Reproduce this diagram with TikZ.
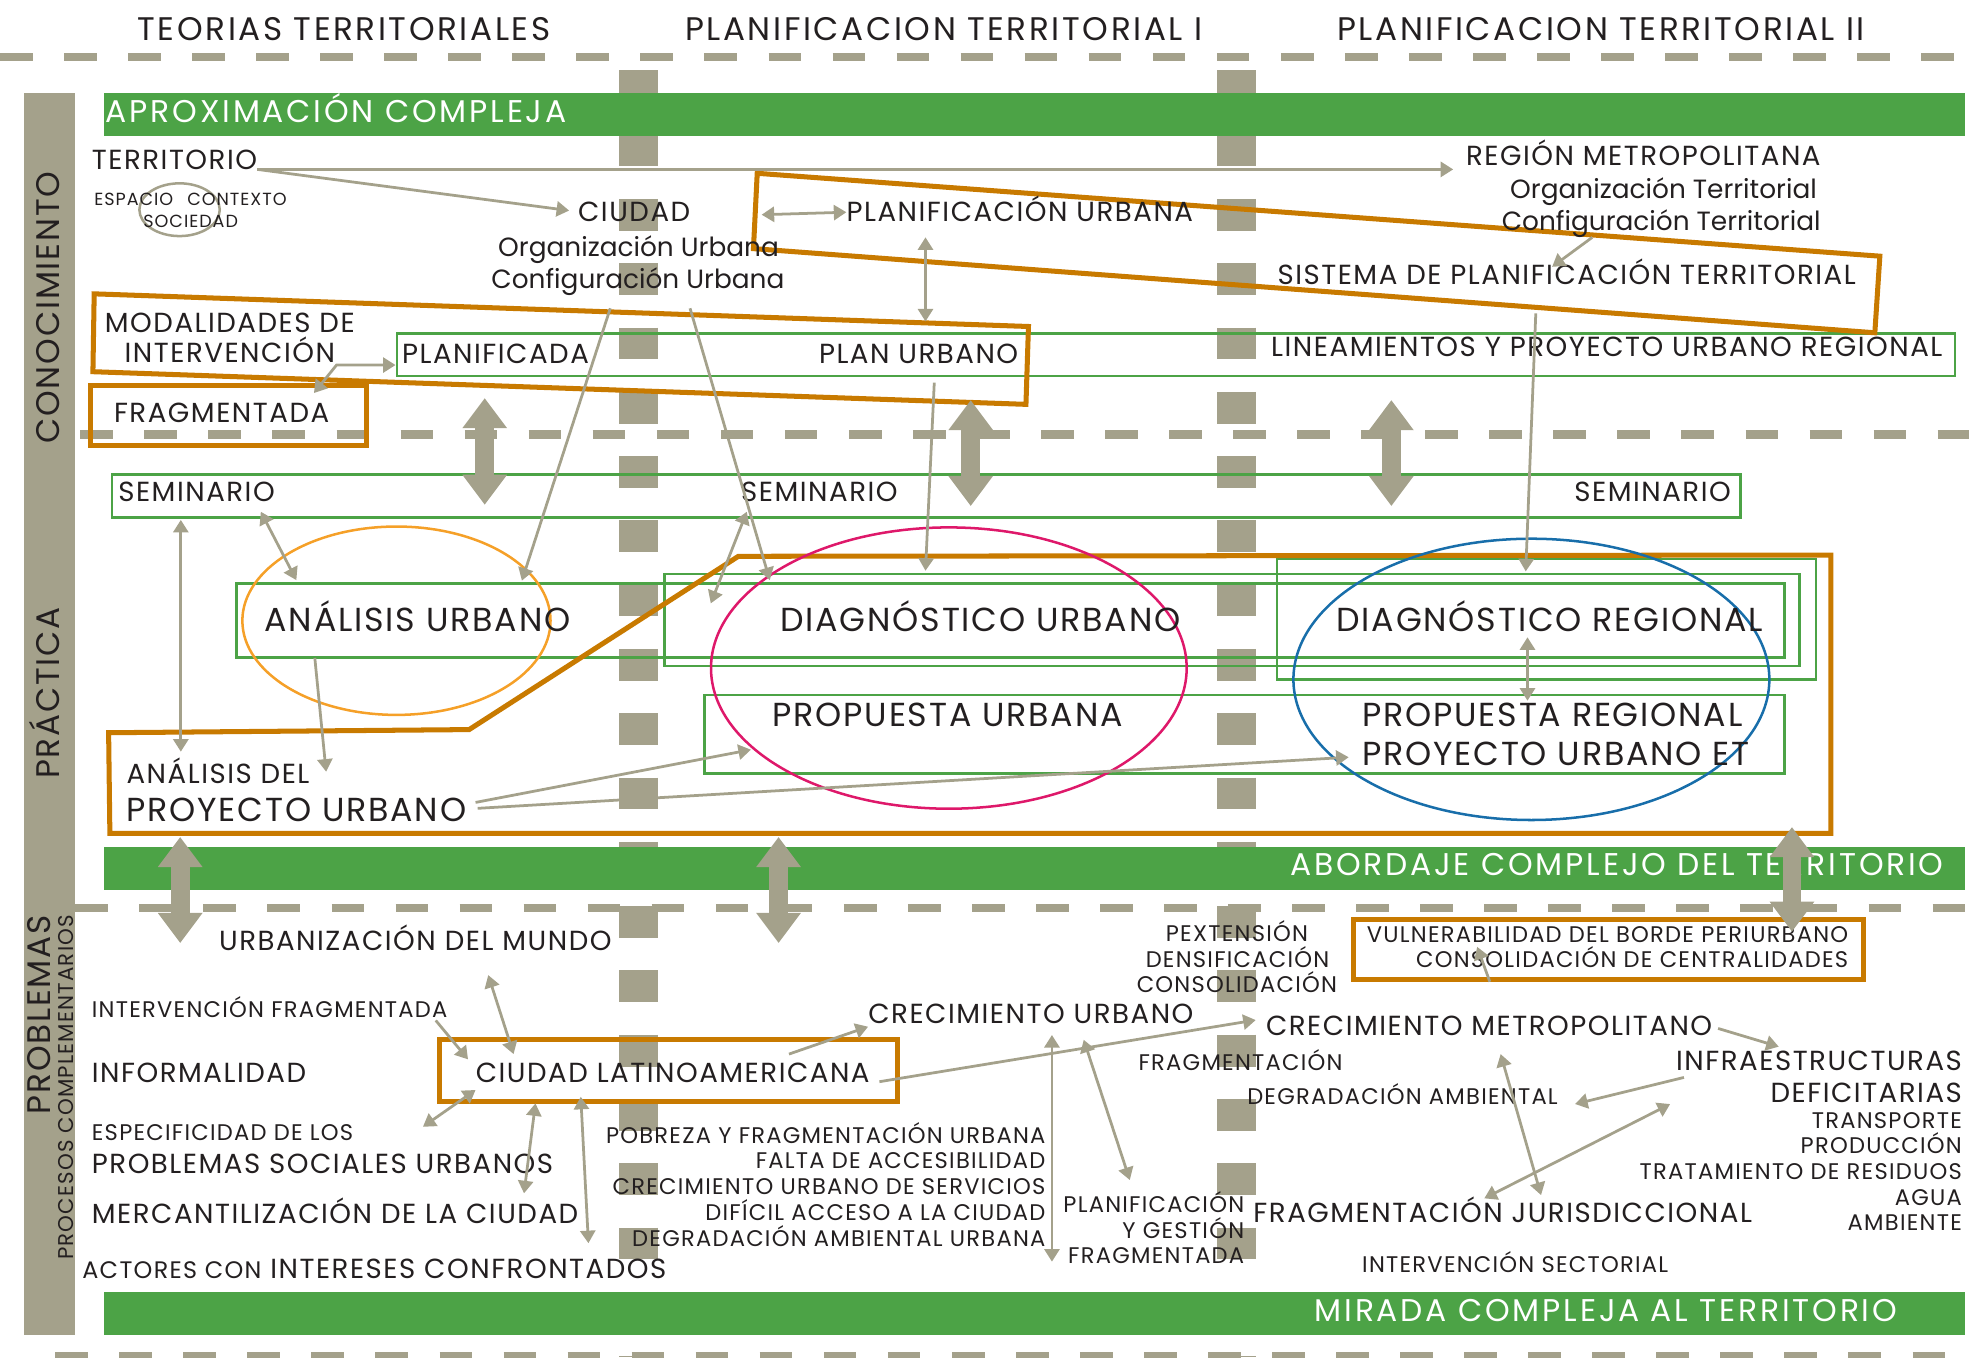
\documentclass[tikz,border=0pt]{standalone}
\usepackage{fontspec}
\setmainfont{Poppins}[LetterSpace=5.5]
\usetikzlibrary{arrows.meta}
\definecolor{bargray}{RGB}{164,161,139}
\definecolor{leaf}{RGB}{76,163,70}
\definecolor{rust}{RGB}{200,122,0}
\definecolor{amber}{RGB}{245,160,40}
\definecolor{rose}{RGB}{222,24,106}
\definecolor{sea}{RGB}{24,110,170}
\definecolor{ink}{RGB}{35,31,32}

\begin{document}
\begin{tikzpicture}[x=1pt, y=-1pt, line join=miter,
    >={Triangle[width=12pt, length=10pt]},
    every node/.style={inner sep=0pt, text=ink, text depth=0pt},
    head/.style={font=\fontsize{26}{26}\selectfont\addfontfeature{LetterSpace=8}, text height=18.2pt},
    side/.style={font=\fontsize{26}{26}\selectfont, text height=18.2pt, rotate=90},
    band/.style={font=\fontsize{25}{25}\selectfont\addfontfeature{LetterSpace=9}, text height=17.5pt, text=white},
    big/.style={font=\fontsize{26.5}{27}\selectfont, text height=18.5pt},
    mid/.style={font=\fontsize{22}{23}\selectfont, text height=15.4pt},
    low/.style={font=\fontsize{21}{22}\selectfont\addfontfeature{LetterSpace=0}, text height=14.7pt},
    sml/.style={font=\fontsize{18}{19}\selectfont, text height=12.6pt},
    tny/.style={font=\fontsize{14}{15}\selectfont, text height=9.8pt},
    link/.style={draw=bargray, line width=2.2pt},
    bigarrow/.style={draw=bargray, line width=15pt, {Triangle[width=34pt,length=24pt]}-{Triangle[width=34pt,length=24pt]}},
    greenbox/.style={draw=leaf, line width=2pt},
    frame/.style={draw=rust, line width=4pt},
    ring/.style={line width=2pt}
  ]
  \useasboundingbox (0,0) rectangle (1568,1081);

  \fill [bargray] (19,74) rectangle (60,1063);
  \foreach \x in {508.5, 985} {
    \draw [bargray, line width=31pt, dash pattern=on 25.3pt off 25.9pt] (\x,56) -- (\x,1081);
  }
  \foreach \y/\s in {45.6/0, 346/64, 723/60, 1080/44} {
    \draw [bargray, line width=6.6pt, dash pattern=on 26pt off 25pt] (\s,\y) -- (1568,\y);
  }
  \foreach \y in {74, 674.5, 1029} {
    \fill [leaf] (83,\y) rectangle (1565,{\y+34});
  }

  % cajas
  \draw [greenbox] (316,265.5) rectangle (1557,299.5);
  \draw [greenbox] (89,377.7) rectangle (1386,412);
  \draw [greenbox] (188.4,464.5) rectangle (1421,523.5);
  \draw [greenbox] (529,457) rectangle (1433,530.5);
  \draw [greenbox] (1017,445) rectangle (1446,541);
  \draw [greenbox] (561,553.5) rectangle (1421,616);

  \draw [frame] (603,138) -- (1497,204) -- (1493,265) -- (600,198) -- cycle;
  \draw [frame] (75,234) -- (819,260) -- (817,322) -- (74,296) -- cycle;
  \draw [frame] (72,307) rectangle (292,355);
  \draw [frame] (86.5,583.5) -- (373.6,581) -- (588,443) -- (1458,442) -- (1458,663.6) -- (87.5,663.6) -- cycle;
  \draw [frame] (350,828) rectangle (715,877);
  \draw [frame] (1078,732) rectangle (1484,780);

  \draw [ring, amber] (315.7,494.3) ellipse [x radius=122.7, y radius=75];
  \draw [ring, rose] (755.6,532) ellipse [x radius=189.4, y radius=112];
  \draw [ring, sea] (1219.5,541) ellipse [x radius=189.5, y radius=112];
  \draw [ring, bargray] (143,167) ellipse [x radius=32, y radius=21];

  % titulos
  \node [head] (teorias) at (274,23) {TEORIAS TERRITORIALES};
  \node [head] (plant1) at (751.5,23) {PLANIFICACION TERRITORIAL I};
  \node [head] (plant2) at (1275,23) {PLANIFICACION TERRITORIAL II};

  \node [side] (conoc) at (38.5,245) {CONOCIMIENTO};
  \node [side] (pract) at (38.5,552) {PRÁCTICA};
  \node [side] (probl) at (31,808) {PROBLEMAS};
  \node [side, font=\fontsize{17}{18}\selectfont, text height=12pt] (procs) at (52.5,866) {PROCESOS COMPLEMENTARIOS};

  \node [band, anchor=west] (aprox) at (84,88.5) {APROXIMACIÓN COMPLEJA};
  \node [band, anchor=east] (abord) at (1548,688.6) {ABORDAJE COMPLEJO DEL TERRITORIO};
  \node [band, anchor=east] (mirada) at (1511,1044) {MIRADA COMPLEJA AL TERRITORIO};

  % conocimiento
  \node [mid, anchor=west] (terr) at (73,127) {TERRITORIO};
  \node [tny, anchor=west] (espacio) at (75,158.5) {ESPACIO};
  \node [tny, anchor=west] (contexto) at (149,158.5) {CONTEXTO};
  \node [tny, anchor=west] (sociedad) at (114,176) {SOCIEDAD};
  \node [mid] (ciudad) at (505,168.6) {CIUDAD};
  \node [low] (orgurb) at (508.5,197) {Organización Urbana};
  \node [low] (cfgurb) at (508,222) {Configuración Urbana};
  \node [mid, anchor=west] (planurb) at (674,169) {PLANIFICACIÓN URBANA};
  \node [mid, anchor=east] (region) at (1450,124.3) {REGIÓN METROPOLITANA};
  \node [low, anchor=east] (orgter) at (1447,150.5) {Organización Territorial};
  \node [low, anchor=east] (cfgter) at (1450,176) {Configuración Territorial};
  \node [mid, anchor=east] (sistema) at (1478,218.5) {SISTEMA DE PLANIFICACIÓN TERRITORIAL};
  \node [mid] (modal) at (183,257) {MODALIDADES DE};
  \node [mid] (interv) at (183,281) {INTERVENCIÓN};
  \node [mid, anchor=west] (planif) at (320,282) {PLANIFICADA};
  \node [mid, anchor=east] (plan) at (811,282) {PLAN URBANO};
  \node [mid, anchor=east] (linea) at (1547,276.5) {LINEAMIENTOS Y PROYECTO URBANO REGIONAL};
  \node [mid] (fragm) at (176.5,328.5) {FRAGMENTADA};

  % practica
  \node [mid, anchor=west] (sem1) at (94,392) {SEMINARIO};
  \node [mid, anchor=west] (sem2) at (590,392) {SEMINARIO};
  \node [mid, anchor=east] (sem3) at (1378.5,392) {SEMINARIO};
  \node [big, anchor=west] (anurb) at (210.5,494) {ANÁLISIS URBANO};
  \node [big, anchor=west] (diagurb) at (621,494) {DIAGNÓSTICO URBANO};
  \node [big, anchor=west] (diagreg) at (1064,494) {DIAGNÓSTICO REGIONAL};
  \node [big, anchor=west] (propurb) at (615,569.5) {PROPUESTA URBANA};
  \node [big, anchor=west] (propreg) at (1084.6,569.5) {PROPUESTA REGIONAL};
  \node [big, anchor=west] (proyet) at (1084.6,600.5) {PROYECTO URBANO ET};
  \node [mid, anchor=west] (andel) at (100.6,616.5) {ANÁLISIS DEL};
  \node [big, anchor=west] (proyurb) at (100.6,644.6) {PROYECTO URBANO};

  % problemas
  \node [mid, anchor=west] (urbmundo) at (174.3,749.3) {URBANIZACIÓN DEL MUNDO};
  \node [sml, anchor=west] (intfrag) at (73,804) {INTERVENCIÓN FRAGMENTADA};
  \node [mid, anchor=west] (informal) at (73,854) {INFORMALIDAD};
  \node [mid, anchor=west] (ciulat) at (378.7,854) {CIUDAD LATINOAMERICANA};
  \node [sml, anchor=west] (especif) at (73,902) {ESPECIFICIDAD DE LOS};
  \node [mid, anchor=west] (probsoc) at (73,926.5) {PROBLEMAS SOCIALES URBANOS};
  \node [mid, anchor=west] (mercant) at (73,967) {MERCANTILIZACIÓN DE LA CIUDAD};
  \node [anchor=base west, font=\fontsize{22}{22}\selectfont] (actores) at (65.4,1018)
    {{\fontsize{19}{19}\selectfont ACTORES CON} INTERESES CONFRONTADOS};
  \node [mid, anchor=west] (crecurb) at (691.3,807.7) {CRECIMIENTO URBANO};
  \node [sml] (pext) at (985,743.5) {PEXTENSIÓN};
  \node [sml] (densif) at (985.5,764) {DENSIFICACIÓN};
  \node [sml] (consol) at (985,784) {CONSOLIDACIÓN};
  \node [sml, anchor=west] (fragmc) at (906.5,846) {FRAGMENTACIÓN};
  \node [sml, anchor=east] (degamb) at (1240.7,873) {DEGRADACIÓN AMBIENTAL};
  \node [sml, anchor=east] (planges) at (991,959.6) {PLANIFICACIÓN};
  \node [sml, anchor=east] (ygest) at (991,980) {Y GESTIÓN};
  \node [sml, anchor=east] (fragda) at (991,1000) {FRAGMENTADA};
  \node [mid, anchor=west] (crecmet) at (1008,817) {CRECIMIENTO METROPOLITANO};
  \node [sml, anchor=east] (vulner) at (1472,744) {VULNERABILIDAD DEL BORDE PERIURBANO};
  \node [sml, anchor=east] (central) at (1472,764) {CONSOLIDACIÓN DE CENTRALIDADES};
  \node [mid, anchor=east] (infra) at (1562.5,845) {INFRAESTRUCTURAS};
  \node [mid, anchor=east] (defic) at (1562.5,870) {DEFICITARIAS};
  \node [sml, anchor=east] (transp) at (1562.5,892.5) {TRANSPORTE};
  \node [sml, anchor=east] (produc) at (1562.5,912.5) {PRODUCCIÓN};
  \node [sml, anchor=east] (residuos) at (1562.5,932.6) {TRATAMIENTO DE RESIDUOS};
  \node [sml, anchor=east] (agua) at (1562.5,954) {AGUA};
  \node [sml, anchor=east] (ambiente) at (1562.5,973.5) {AMBIENTE};
  \node [mid, anchor=west] (fragjur) at (998,965.6) {FRAGMENTACIÓN JURISDICCIONAL};
  \node [sml, anchor=west] (intsect) at (1084.6,1006.7) {INTERVENCIÓN SECTORIAL};
  \node [sml, anchor=east] (pobreza) at (832.7,904) {POBREZA Y FRAGMENTACIÓN URBANA};
  \node [sml, anchor=east] (falta) at (832.7,924) {FALTA DE ACCESIBILIDAD};
  \node [sml, anchor=east] (crecserv) at (832.7,945) {CRECIMIENTO URBANO DE SERVICIOS};
  \node [sml, anchor=east] (dificil) at (832.7,965.6) {DIFÍCIL ACCESO A LA CIUDAD};
  \node [sml, anchor=east] (degurb) at (832.7,986) {DEGRADACIÓN AMBIENTAL URBANA};

  % puntos de las flechas
  \coordinate (ciudad-r) at (606.5,171);
  \coordinate (planurb-s) at (737,189);
  \coordinate (plan-n) at (737,256);
  \coordinate (cfgter-s) at (1268,189);
  \coordinate (sistema-n) at (1236,212.5);
  \coordinate (fragm-n) at (250,313);
  \coordinate (interv-k) at (268,290.7);
  \coordinate (planif-w) at (315,290.7);
  \coordinate (sem1-s) at (144,414);
  \coordinate (andel-n) at (144,598.6);
  \coordinate (sem1-e) at (207.7,407.5);
  \coordinate (anurb-n) at (236,462);
  \coordinate (cfgurb-a) at (486,245.5);
  \coordinate (anurb-ne) at (415.6,462.4);
  \coordinate (cfgurb-b) at (549.5,245.5);
  \coordinate (diagurb-nw) at (613,462);
  \coordinate (sem2-s) at (594.7,407.5);
  \coordinate (diagurb-w) at (566,480.5);
  \coordinate (plan-s) at (744,304.7);
  \coordinate (diagurb-n) at (737,454.5);
  \coordinate (linea-s) at (1223,249.5);
  \coordinate (diagreg-n) at (1215,455);
  \coordinate (diagreg-s) at (1216.4,507.5);
  \coordinate (propreg-n) at (1216.4,558);
  \coordinate (anurb-s) at (250.7,524);
  \coordinate (andel-e) at (259.7,614.5);
  \coordinate (proyurb-a) at (378.7,639);
  \coordinate (proyurb-b) at (380.4,643.7);
  \coordinate (propurb-w) at (598,597);
  \coordinate (proyet-w) at (1074,603);
  \coordinate (intfrag-e) at (347,812.6);
  \coordinate (ciulat-nw) at (372.7,843.6);
  \coordinate (urbmundo-s) at (388.8,776.5);
  \coordinate (ciulat-n) at (409,839.4);
  \coordinate (ciulat-sw) at (378.7,868);
  \coordinate (especif-e) at (336.8,897.3);
  \coordinate (ciulat-s) at (426.4,878.6);
  \coordinate (mercant-n) at (417.3,950.3);
  \coordinate (ciulat-se) at (462.5,873.4);
  \coordinate (actores-n) at (468.6,990);
  \coordinate (ciulat-ne) at (628.3,839.4);
  \coordinate (crecurb-w) at (691.3,817.6);
  \coordinate (ciulat-e) at (700.3,861.4);
  \coordinate (crecmet-w) at (1000,812.3);
  \coordinate (crecurb-s) at (837.7,824.2);
  \coordinate (crecurb-d) at (837.7,1004.7);
  \coordinate (crecurb-b) at (863,828);
  \coordinate (planges-n) at (899.7,939.7);
  \coordinate (crecmet-n) at (1186.4,781.8);
  \coordinate (central-w) at (1176.3,754);
  \coordinate (crecmet-e) at (1368.2,819);
  \coordinate (infra-w) at (1416.5,833.5);
  \coordinate (infra-sw) at (1341,858);
  \coordinate (degamb-e) at (1254.3,879.2);
  \coordinate (crecmet-s) at (1195,839.4);
  \coordinate (fragjur-n) at (1227.2,951.7);
  \coordinate (fragjur-nw) at (1182,954.3);
  \coordinate (infra-s) at (1330,879.2);

  \draw [link, ->, shorten >=10pt] (terr.south east) -- (terr.south east -| region.west);
  \draw [link, ->, shorten >=7pt] (terr.south east) -- (ciudad.west);
  \draw [link, <->] (ciudad-r) -- (planurb.west);
  \draw [link, <->] (fragm-n) -- (interv-k) -- (planif-w);

  \foreach \a/\b in {planurb-s/plan-n, sem1-s/andel-n, sem1-e/anurb-n, sem2-s/diagurb-w,
      diagreg-s/propreg-n, urbmundo-s/ciulat-n, ciulat-sw/especif-e, ciulat-s/mercant-n,
      ciulat-se/actores-n, crecurb-s/crecurb-d, crecurb-b/planges-n, crecmet-s/fragjur-n,
      fragjur-nw/infra-s} {
    \draw [link, <->] (\a) -- (\b);
  }
  \foreach \a/\b in {cfgter-s/sistema-n, cfgurb-a/anurb-ne, cfgurb-b/diagurb-nw, plan-s/diagurb-n,
      linea-s/diagreg-n, anurb-s/andel-e, proyurb-a/propurb-w, proyurb-b/proyet-w,
      intfrag-e/ciulat-nw, ciulat-ne/crecurb-w, ciulat-e/crecmet-w, crecmet-n/central-w,
      crecmet-e/infra-w, infra-sw/degamb-e} {
    \draw [link, ->] (\a) -- (\b);
  }

  \foreach \x/\t/\b in {386/317/402, 773/318.6/403, 1108/318.6/403,
      143.5/666.5/751, 620/666.5/751, 1427/658.6/742} {
    \draw [bigarrow] (\x,\t) -- (\x,\b);
  }
\end{tikzpicture}
\end{document}
